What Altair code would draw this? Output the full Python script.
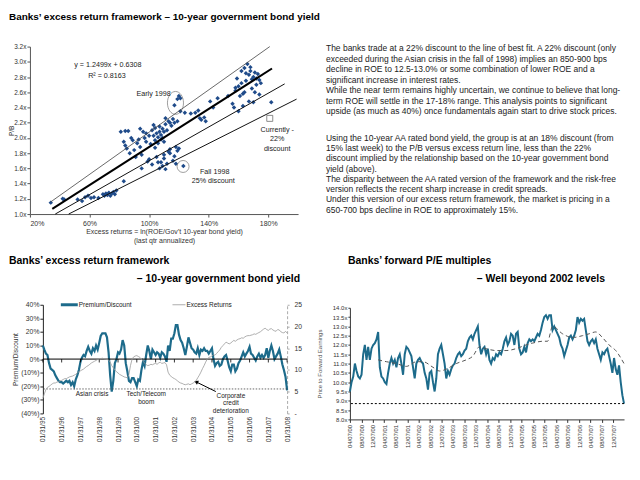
import altair as alt
import pandas as pd

FONT = "Liberation Sans"
TEAL = "#1d6b8b"
NAVY = "#1f4b8a"
INK = "#222222"

# ---------------- text ----------------
main_title = "Banks’ excess return framework – 10-year government bond yield"
para_block1 = [
    "The banks trade at a 22% discount to the line of best fit. A 22% discount (only",
    "exceeded during the Asian crisis in the fall of 1998) implies an 850-900 bps",
    "decline in ROE to 12.5-13.0% or some combination of lower ROE and a",
    "significant increase in interest rates.",
    "While the near term remains highly uncertain, we continue to believe that long-",
    "term ROE will settle in the 17-18% range. This analysis points to significant",
    "upside (as much as 40%) once fundamentals again start to drive stock prices.",
]
para_block2 = [
    "Using the 10-year AA rated bond yield, the group is at an 18% discount (from",
    "15% last week) to the P/B versus excess return line, less than the 22%",
    "discount implied by the relationship based on the 10-year government bond",
    "yield (above).",
    "The disparity between the AA rated version of the framework and the risk-free",
    "version reflects the recent sharp increase in credit spreads.",
    "Under this version of our excess return framework, the market is pricing in a",
    "650-700 bps decline in ROE to approximately 15%.",
]
bl_title1 = "Banks’ excess return framework"
bl_title2 = "– 10-year government bond yield"
br_title1 = "Banks’ forward P/E multiples"
br_title2 = "– Well beyond 2002 levels"

# ---------------- scatter (P/B vs excess returns) ----------------
scatter_pct = [34, 42, 43, 52, 55, 57, 59, 61, 63, 66, 69, 70, 71, 72, 73, 74, 75, 76, 77, 78, 83,
               81, 84, 86, 83, 84, 85, 87, 89, 90, 91, 92, 93, 94, 95, 95, 96, 97, 98, 99, 100,
               101, 102, 103, 104, 104, 105, 106, 106, 107, 107, 108, 108, 109, 109, 110, 110,
               111, 112, 113, 114, 115, 116, 117, 119, 121, 124, 128, 131, 133, 134, 135, 137,
               138, 141, 143, 146,
               100, 102, 104, 105, 106, 107, 108, 109, 110, 110, 111, 112, 113, 114, 116, 117,
               118, 119, 120, 118, 123,
               117, 119, 120, 121,
               156, 157, 158, 159, 160, 160, 161, 162, 162, 163, 164, 164, 165, 165, 166, 167,
               167, 168, 169, 169, 170, 171, 171, 172, 173, 174, 174, 175, 170, 182, 153, 158,
               163, 168, 172,
               88, 94, 98, 103, 111, 114]
scatter_pb = [1.15, 1.20, 1.19, 1.19, 1.17, 1.22, 1.24, 1.21, 1.22, 1.21, 1.26, 1.24, 1.27, 1.25,
              1.28, 1.24, 1.27, 1.29, 1.26, 1.31, 1.43,
              2.08, 2.09, 2.09, 1.95, 1.90, 1.86, 1.80, 1.97, 1.84, 1.75, 1.93, 1.98, 1.88, 1.78,
              1.60, 2.08, 2.00, 1.95, 1.69, 2.03, 1.92, 2.10, 2.03, 1.97, 2.13, 2.06, 1.93, 2.01,
              2.08, 2.15, 1.98, 2.04, 2.12, 2.00, 2.08, 1.95, 2.18, 2.10, 2.22, 2.20, 2.16, 2.25,
              2.20, 2.22, 2.35, 2.33, 2.32, 2.33, 2.36, 2.26, 2.24, 2.27, 2.22, 2.48, 2.40, 2.52,
              1.72, 1.65, 1.87, 1.75, 1.68, 1.60, 1.68, 1.63, 1.73, 1.78, 1.59, 1.66, 1.82, 1.85,
              1.70, 1.76, 1.88, 1.83, 1.86, 1.66, 1.63,
              2.43, 2.51, 2.55, 2.52,
              2.45, 2.40, 2.62, 2.78, 2.35, 2.68, 2.55, 2.88, 2.72, 2.42, 2.92, 2.60, 2.85, 2.75,
              2.97, 2.83, 2.48, 2.88, 2.77, 2.65, 2.80, 2.86, 2.60, 2.78, 2.84, 2.57, 2.76, 2.72,
              2.47, 2.47, 2.55, 2.66, 2.58, 2.93, 2.70,
              2.00, 2.12, 2.06, 2.17, 2.26, 1.80]

fit_pct, fit_pb = [35, 182.5], [1.068, 2.912]
upper_pct, upper_pb = [34, 181], [1.16, 3.2]
lower1_pct, lower1_pb = [37, 191], [1.0, 2.71]
lower2_pct, lower2_pb = [46, 199], [1.0, 2.51]
current_pct, current_pb = [181], [2.257]
early_pct, early_pb = [117.7], [2.46]
fall_pct, fall_pb = [122.8], [1.625]

sc_labels = ["y = 1.2499x + 0.6308", "R² = 0.8163", "Early 1998", "Fall 1998", "25% discount",
             "Currently -", "22%", "discount"]
sc_label_pct = [72.3, 71.7, 103, 144, 143, 186, 186, 186]
sc_label_pb = [2.96, 2.82, 2.575, 1.554, 1.432, 2.10, 1.98, 1.85]

# ---------------- bottom-left: premium/discount vs excess returns ----------------
premium = [10, 7, 4, 3, -3, -7, -8, -9, -12, -14, -16, -17,
           -17, -18, -17, -16, -17, -16, -19, -17, -20, -15, -12, -8,
           -2, 1, 3, 2, 6, 9, 6, 4, 8, 6, 10, 7,
           12, 17, 19, 19, 19, 16, 5, -12, -24, -16, -3, 0,
           5, 4, 7, 14, 10, -3, -9, -16, -17, -14, -14, -17,
           -20, -15, -16, -8, -2, -5, 3, 10, 6, 0, 7, 5,
           3, 5, 4, 1, 5, 4, 2, -2, 10, 6, 15, 15,
           19, 25, 25, 18, 14, 12, 8, 3, 9, 16, 12, 8,
           7, 5, 4, 8, 3, 7, 6, 8, 6, 6, 4, 6,
           8, 0, -5, -3, -2, -5, -4, 0, 2, 3, -1, -6,
           -9, -4, -4, -9, -7, -3, -1, 2, 5, 2, 4, 6,
           9, 4, 3, 1, -1, 2, 4, 1, 3, 1, 3, 8,
           1, 6, 10, 6, 0, 2, 4, 7, 2, -4, -8, -13,
           -23]
excess = [3.5, 4.5, 5.5, 6.0, 6.2, 6.5, 6.8, 7.0, 7.0, 7.2, 7.3, 7.5,
          7.6, 7.8, 8.0, 8.0, 8.2, 8.4, 8.5, 8.6, 8.8, 9.0, 9.3, 9.6,
          9.8, 10.0, 10.2, 10.5, 10.8, 11.0, 11.3, 11.6, 11.8, 12.0, 12.2, 12.4,
          12.5, 12.6, 12.7, 12.6, 12.5, 12.4, 12.3, 11.8, 11.0, 10.5, 10.0, 9.6,
          9.3, 9.0, 8.8, 8.6, 8.4, 8.3, 8.2, 9.0, 11.0, 12.5, 13.0, 13.2,
          13.3, 13.1, 12.9, 12.5, 12.0, 11.6, 11.2, 11.0, 11.1, 11.3, 11.2, 11.4,
          11.5, 11.3, 11.6, 11.8, 11.5, 11.6, 11.7, 11.2, 9.5, 8.8, 8.5, 8.2,
          8.0, 7.8, 7.5, 7.2, 7.0, 6.9, 6.7, 6.6, 6.7, 6.8, 6.6, 6.8,
          7.0, 7.2, 7.6, 8.2, 8.8, 9.5, 10.3, 11.0, 11.8, 12.5, 12.9, 13.0,
          13.2, 13.5, 13.4, 13.8, 14.2, 14.6, 15.2, 15.6, 16.0, 16.4, 16.2, 16.0,
          16.2, 16.5, 16.8, 16.6, 16.9, 17.1, 17.2, 17.4, 17.3, 17.6, 17.8, 17.9,
          17.9, 18.0, 18.1, 18.3, 18.2, 18.4, 18.6, 18.8, 19.1, 19.4, 19.6, 19.3,
          19.1, 19.4, 19.5, 19.2, 19.0, 18.9, 19.3, 19.2, 18.8, 18.6, 18.5, 18.9,
          18.5]
bl_tick_labels = ["01/31/95", "01/31/96", "01/31/97", "01/31/98", "01/31/99", "01/31/00",
                  "01/31/01", "01/31/02", "01/31/03", "01/31/04", "01/31/05", "01/31/06",
                  "01/31/07", "01/31/08"]
bl_notes = ["Asian crisis", "Tech/Telecom", "boom", "Corporate", "credit", "deterioration"]
bl_note_dates = ["1997-09-15", "2000-08-01", "2000-08-01", "2005-02-01", "2005-02-01", "2005-02-01"]
bl_note_vals = [-26, -26, -31.9, -27.5, -32.7, -38.5]
arrow_from = ("2004-04-15", -23.9)
arrow_to = ("2003-04-10", -17.0)
discount_level = [-22]

# ---------------- bottom-right: forward P/E ----------------
pe_vals = [9.5, 10.0, 10.3, 11.0, 10.6, 10.3, 10.2, 10.4, 11.5, 12.0, 11.2, 11.9, 11.2, 11.8,
           12.0, 12.1, 12.3, 12.7, 10.8, 10.3, 10.2, 10.0, 9.9, 10.5, 11.0, 11.3, 11.0, 11.2,
           10.8, 11.3, 11.5, 11.0, 10.4, 11.5, 11.9, 11.8, 11.6, 11.4, 10.8, 10.2, 11.0, 11.2,
           11.3, 11.1, 11.0, 10.5, 10.2, 9.6, 10.5, 10.6, 10.0, 9.5, 10.2, 11.5, 11.8, 12.0,
           11.5, 11.0, 10.2, 10.6, 10.4, 10.7, 10.9, 11.0, 11.3, 11.5, 11.6, 11.4, 11.5, 11.7,
           11.8, 12.2, 12.4, 12.5, 12.3, 12.6, 12.8, 13.0, 12.0, 11.5, 11.8, 11.9, 11.5, 11.8,
           11.2, 11.0, 11.3, 11.2, 11.5, 11.4, 11.6, 11.5, 11.8, 12.2, 12.4, 12.0, 12.2, 12.6,
           12.5, 12.0, 12.6, 12.7, 11.8, 11.5, 11.6, 11.9, 11.6, 12.1, 12.3, 12.2, 12.3, 12.2,
           12.4, 12.6, 12.5, 12.8, 13.2, 13.5, 13.6, 13.4, 13.6, 13.6, 12.8, 13.0, 12.8, 12.6,
           12.4, 12.0, 11.8, 11.4, 11.7, 12.0, 12.4, 12.5, 12.3, 12.5, 12.8, 13.5, 13.2, 13.4,
           13.3, 13.4, 12.8, 12.2, 12.0, 12.2, 12.3, 12.1, 12.3, 11.8, 11.5, 11.2, 11.6, 11.5,
           11.7, 11.8, 11.4, 11.0, 10.5, 11.3, 10.7, 10.4, 10.9, 10.0, 9.3, 8.85]
pe_start, pe_end = "2000-04-07", "2008-03-28"
ma_idx = [17, 22, 28, 34, 40, 44, 50, 54, 58, 64, 70, 74, 78, 82, 88, 94, 100, 106, 110, 116,
          119, 122, 128, 134, 140, 144, 148, 152, 156, 160, 165]
ma_vals = [11.2, 11.1, 11.0, 10.85, 11.1, 11.1, 10.8, 10.6, 10.7, 11.0, 11.2, 11.4, 11.9, 11.8,
           11.7, 11.7, 11.8, 12.0, 12.1, 12.2, 12.2, 13.0, 12.6, 12.4, 12.5, 12.6, 12.7, 12.4,
           12.0, 11.7, 11.0]
pe_floor = [8.85]
br_tick_labels = ["04/07/00", "08/07/00", "12/07/00", "04/07/01", "08/07/01", "12/07/01",
                  "04/07/02", "08/07/02", "12/07/02", "04/07/03", "08/07/03", "12/07/03",
                  "04/07/04", "08/07/04", "12/07/04", "04/07/05", "08/07/05", "12/07/05",
                  "04/07/06", "08/07/06", "12/07/06", "04/07/07", "08/07/07", "12/07/07"]


# ---------------- helpers ----------------
def to_dt(s):
    m, d, y = (int(v) for v in s.split("/"))
    return alt.DateTime(year=(1900 + y) if y > 50 else (2000 + y), month=m, date=d)


def to_ts(s):
    m, d, y = (int(v) for v in s.split("/"))
    return pd.Timestamp(year=(1900 + y) if y > 50 else (2000 + y), month=m, day=d)


one = pd.DataFrame({"k": [0]})


def spacer(w, h):
    return alt.Chart(one).mark_point(opacity=0).encode(
        x=alt.value(0), y=alt.value(0)).properties(width=w, height=h)


def ptext(txt, x, y, size=7.0, align="left", weight="normal", baseline="middle", lh=None, color=INK):
    kw = dict(align=align, baseline=baseline, fontSize=size, fontWeight=weight, color=color)
    if lh:
        kw["lineHeight"] = lh
    return alt.Chart(one).mark_text(**kw).encode(x=alt.value(x), y=alt.value(y), text=alt.value(txt))


# ================= ROW 1: scatter =================
xsc = alt.Scale(domain=[20, 200], nice=False, zero=False)
ysc = alt.Scale(domain=[1.0, 3.2], nice=False, zero=False)
sc_xaxis = alt.Axis(values=[20, 60, 100, 140, 180], labelExpr="datum.value + '%'",
                    title=["Excess returns = ln(ROE/Gov’t 10-year bond yield)", "(last qtr annualized)"],
                    titleFontSize=7, titleFontWeight="normal", titleLineHeight=8.5, titlePadding=2,
                    labelFontSize=7, labelPadding=2, tickSize=3, grid=False,
                    domainColor="#555", tickColor="#555", labelColor="#333", titleColor="#333")
sc_yaxis = alt.Axis(values=[1.0, 1.2, 1.4, 1.6, 1.8, 2.0, 2.2, 2.4, 2.6, 2.8, 3.0, 3.2],
                    labelExpr="format(datum.value, '.1f') + 'x'", title="P/B",
                    titleFontSize=6.5, titleFontWeight="normal", titleAngle=270, titleX=-18,
                    titleY=84, titleBaseline="middle", titleAlign="center",
                    labelFontSize=6.5, labelPadding=1, tickSize=3, grid=False,
                    domainColor="#555", tickColor="#555", labelColor="#333", titleColor="#333")

sc_df = pd.DataFrame({"pct": scatter_pct, "pb": scatter_pb})
X0 = alt.X("pct:Q", scale=xsc, axis=sc_xaxis)
Y0 = alt.Y("pb:Q", scale=ysc, axis=sc_yaxis)


def seg(px, py, color, width):
    return alt.Chart(pd.DataFrame({"pct": px, "pb": py})).mark_line(
        color=color, strokeWidth=width).encode(x=X0, y=Y0)


points = alt.Chart(sc_df).mark_point(shape="diamond", filled=True, size=20, color=NAVY,
                                     opacity=1).encode(x=X0, y=Y0)
current = alt.Chart(pd.DataFrame({"pct": current_pct, "pb": current_pb})).mark_point(
    shape="square", filled=False, size=36, color="#333", strokeWidth=0.8).encode(x=X0, y=Y0)
early = alt.Chart(pd.DataFrame({"pct": early_pct, "pb": early_pb})).mark_point(
    shape="M 0 -1 A 0.7 1 0 1 1 0 1 A 0.7 1 0 1 1 0 -1 Z", filled=False, size=529,
    color="#555", strokeWidth=0.8).encode(x=X0, y=Y0)
fall = alt.Chart(pd.DataFrame({"pct": fall_pct, "pb": fall_pb})).mark_point(
    shape="circle", filled=False, size=144, color="#555", strokeWidth=0.8).encode(x=X0, y=Y0)
sc_notes = alt.Chart(pd.DataFrame({"pct": sc_label_pct, "pb": sc_label_pb, "t": sc_labels})).mark_text(
    fontSize=7.2, color=INK).encode(x=X0, y=Y0, text="t:N")

anchor = alt.Chart(one).mark_rule(color="white", strokeWidth=0.5).encode(
    x=alt.value(-21), x2=alt.value(-20), y=alt.value(-37))

row1 = alt.layer(
    points,
    anchor,
    ptext(main_title, -21, -29.5, size=10, weight="bold", color="black"),
    ptext(para_block1, 297, -2.5, size=8.5, baseline="top", lh=10.6),
    ptext(para_block2, 297, 87.5, size=8.5, baseline="top", lh=10.3),
    seg(upper_pct, upper_pb, "#444", 0.8),
    seg(lower1_pct, lower1_pb, "#111", 1.0),
    seg(lower2_pct, lower2_pb, "#111", 1.0),
    seg(fit_pct, fit_pb, "#000", 2.0),
    current, early, fall, sc_notes,
).properties(width=269, height=168)

# ================= ROW 2 left: premium / discount =================
bl_dates = pd.date_range("1995-01-01", periods=len(premium), freq="MS") + pd.offsets.MonthEnd(0)
bl_df = pd.DataFrame({"date": bl_dates, "prem": premium, "exc": excess})
bl_xscale = alt.Scale(domain=[to_dt(bl_tick_labels[0]), to_dt(bl_tick_labels[-1])])
bl_xaxis = alt.Axis(values=[to_dt(s) for s in bl_tick_labels], format="%m/%d/%y", labelAngle=270,
                    domain=False, ticks=False, labelPadding=3, labelFontSize=6.5, title=None,
                    grid=False, labelColor="#333")
bl_yscale = alt.Scale(domain=[-40, 40], nice=False)
bl_yaxis = alt.Axis(values=list(range(-40, 41, 10)),
                    labelExpr="datum.value < 0 ? '(' + (-datum.value) + '%)' : datum.value + '%'",
                    title="Premium/Discount", titleFontSize=6.5, titleFontWeight="normal",
                    titleAngle=270, titleX=-27, titleY=54.5, titleBaseline="middle",
                    titleAlign="center", labelFontSize=6.8, labelPadding=1, tickSize=3, grid=False,
                    domainColor="#222", tickColor="#222", labelColor="#333", titleColor="#333")
BX = alt.X("date:T", scale=bl_xscale, axis=bl_xaxis)
BY = alt.Y("prem:Q", scale=bl_yscale, axis=bl_yaxis)

prem_line = alt.Chart(bl_df).mark_line(color=TEAL, strokeWidth=2.2).encode(x=BX, y=BY)
zero_rule = alt.Chart(pd.DataFrame({"prem": [0]})).mark_rule(color="black", strokeWidth=1).encode(y=BY)
tick_df = pd.DataFrame({"date": [to_ts(s) for s in bl_tick_labels], "prem": 0, "p2": -2.5})
zero_ticks = alt.Chart(tick_df).mark_rule(color="black", strokeWidth=0.8).encode(
    x=BX, y=BY, y2="p2:Q")
disc_rule = alt.Chart(pd.DataFrame({"prem": discount_level})).mark_rule(
    color="#444", strokeWidth=0.8, strokeDash=[1.5, 1.5]).encode(y=BY)
note_df = pd.DataFrame({"date": pd.to_datetime(bl_note_dates), "prem": bl_note_vals, "t": bl_notes})
bl_notes_layer = alt.Chart(note_df).mark_text(fontSize=6.5, color=INK).encode(x=BX, y=BY, text="t:N")
arr_df = pd.DataFrame({"date": [pd.Timestamp(arrow_from[0])], "prem": [arrow_from[1]],
                       "d2": [pd.Timestamp(arrow_to[0])], "p2": [arrow_to[1]]})
arrow_shaft = alt.Chart(arr_df).mark_rule(color="black", strokeWidth=1).encode(
    x=BX, y=BY, x2="d2:T", y2="p2:Q")
tip_df = pd.DataFrame({"date": [pd.Timestamp(arrow_to[0])], "prem": [arrow_to[1]]})
arrow_tip = alt.Chart(tip_df).mark_point(shape="triangle", filled=True, size=22, angle=295,
                                         color="black", opacity=1).encode(x=BX, y=BY)

legend = [
    alt.Chart(one).mark_rule(color=TEAL, strokeWidth=3).encode(
        x=alt.value(18), x2=alt.value(35), y=alt.value(0)),
    ptext("Premium/Discount", 36, 0, size=6.5),
    alt.Chart(one).mark_rule(color="#999", strokeWidth=0.8).encode(
        x=alt.value(130), x2=alt.value(143), y=alt.value(0)),
    ptext("Excess Returns", 144, 0, size=6.5),
]

bl_left = alt.layer(prem_line, zero_rule, zero_ticks, disc_rule, bl_notes_layer, arrow_shaft,
                    arrow_tip, *legend,
                    ptext(bl_title1, -34, -44, size=10.5, weight="bold", color="black"),
                    ptext(bl_title2, 258, -25.7, size=10.5, weight="bold", align="right",
                          color="black"))
exc_line = alt.Chart(bl_df).mark_line(color="#9a9a9a", strokeWidth=0.8).encode(
    x=BX,
    y=alt.Y("exc:Q", scale=alt.Scale(domain=[0, 25], nice=False),
            axis=alt.Axis(orient="right", values=[0, 5, 10, 15, 20, 25],
                          labelExpr="datum.value == 0 ? '-' : datum.value", title=None,
                          domainDash=[3, 2], domainColor="#aaa", tickColor="#aaa", tickSize=2,
                          labelFontSize=6.8, labelPadding=5, grid=False, labelColor="#333")))
bl = alt.layer(bl_left, exc_line).resolve_scale(y="independent").properties(width=245, height=109)

# ================= ROW 2 right: forward P/E =================
pe_dates = pd.date_range(pe_start, pe_end, periods=len(pe_vals))
pe_df = pd.DataFrame({"date": pe_dates, "pe": pe_vals})
ma_df = pd.DataFrame({"date": [pe_dates[i] for i in ma_idx], "pe": ma_vals})
br_xscale = alt.Scale(domain=[alt.DateTime(year=2000, month=4, date=7),
                              alt.DateTime(year=2008, month=3, date=28)])
br_xaxis = alt.Axis(values=[to_dt(s) for s in br_tick_labels], format="%m/%d/%y", labelAngle=270,
                    labelFontSize=6, tickSize=3, labelPadding=2, title=None, grid=False,
                    domainColor="#333", tickColor="#333", labelColor="#333")
br_yscale = alt.Scale(domain=[8, 14], nice=False, zero=False)
br_yaxis = alt.Axis(values=[8 + 0.5 * i for i in range(13)],
                    labelExpr="format(datum.value, '.1f') + 'x'", title="Price to Forward Earnings",
                    titleFontSize=6, titleFontWeight="normal", titleAngle=270, titleX=-30,
                    titleY=56, titleBaseline="middle", titleAlign="center", labelFontSize=6,
                    labelPadding=1, tickSize=2, grid=False, domainColor="#333", tickColor="#333",
                    labelColor="#333", titleColor="#555")
RX = alt.X("date:T", scale=br_xscale, axis=br_xaxis)
RY = alt.Y("pe:Q", scale=br_yscale, axis=br_yaxis)
pe_line = alt.Chart(pe_df).mark_line(color=TEAL, strokeWidth=2.0).encode(x=RX, y=RY)
ma_line = alt.Chart(ma_df).mark_line(color="#555", strokeWidth=1, strokeDash=[4, 3],
                                     interpolate="monotone").encode(x=RX, y=RY)
floor_rule = alt.Chart(pd.DataFrame({"pe": pe_floor})).mark_rule(
    color="black", strokeWidth=1, strokeDash=[2, 2]).encode(y=RY)
br = alt.layer(pe_line, floor_rule, ma_line,
               ptext(br_title1, -2, -47, size=10.5, weight="bold", color="black"),
               ptext(br_title2, 256, -28.7, size=10.5, weight="bold", align="right",
                     color="black")).properties(width=275, height=112)

row2 = alt.hconcat(spacer(13, 109), bl, spacer(63, 109),
                   alt.vconcat(spacer(275, 3), br, spacing=0, bounds="flush"),
                   spacing=0, bounds="flush")

chart = alt.vconcat(row1, row2, spacing=91, bounds="flush").properties(
    padding={"left": 0, "top": 0, "right": 4, "bottom": 4}
).configure(font=FONT).configure_view(stroke=None)

chart.save("out.html", embed_options={"renderer": "svg", "actions": False})
